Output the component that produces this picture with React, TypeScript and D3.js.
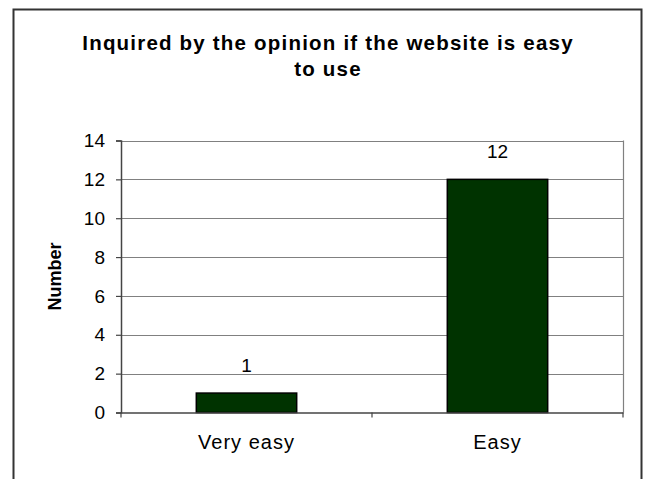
import * as d3 from 'd3'
import React, { useEffect, useRef } from "react";

const categories = ['Very easy', 'Easy'];
const counts = [1, 12];
const yTicks = [0, 2, 4, 6, 8, 10, 12, 14];
const titleLines = ['Inquired by the opinion if the website is easy', 'to use'];

const App: React.FC = () => {
    const ref = useRef<SVGSVGElement>(null);

    useEffect(() => {
        if (!ref.current) return;
        const width = 649;
        const height = 479;
        const svg = d3.select(ref.current)
            .attr('width', width)
            .attr('height', height)
            .style('position', 'absolute')
            .style('left', '0px')
            .style('top', '0px');
        svg.selectAll('*').remove();

        const font = 'Arial, "Liberation Sans", sans-serif';

        // outer chart frame (bottom edge runs off the picture)
        svg.append('path')
            .attr('d', 'M13.5,490 V9.5 H641.5 V490')
            .attr('fill', 'none')
            .attr('stroke', '#333')
            .attr('stroke-width', 2);

        const left = 121, right = 623, top = 140.5, bottom = 412.5;

        const x = d3.scaleBand<string>().domain(categories).range([left, right]).paddingInner(0).paddingOuter(0);
        const y = d3.scaleLinear().domain([0, 14]).range([bottom, top]);

        // gridlines
        svg.append('g')
            .selectAll('line')
            .data(yTicks.filter(t => t > 0))
            .join('line')
            .attr('x1', left).attr('x2', right)
            .attr('y1', d => Math.round(y(d)) + 0.5).attr('y2', d => Math.round(y(d)) + 0.5)
            .attr('stroke', '#808080')
            .attr('stroke-width', 1.2);

        // right plot border
        svg.append('line')
            .attr('x1', right + 0.5).attr('x2', right + 0.5)
            .attr('y1', top).attr('y2', bottom)
            .attr('stroke', '#808080')
            .attr('stroke-width', 1.2);

        // bars
        const barW = x.bandwidth() * 0.4;
        svg.append('g')
            .selectAll('rect')
            .data(counts)
            .join('rect')
            .attr('x', (d, i) => x(categories[i])! + (x.bandwidth() - barW) / 2)
            .attr('width', barW)
            .attr('y', d => y(d))
            .attr('height', d => y(0) - y(d))
            .attr('fill', '#003300')
            .attr('stroke', '#000')
            .attr('stroke-width', 1.5);

        // value labels
        svg.append('g')
            .selectAll('text')
            .data(counts)
            .join('text')
            .attr('x', (d, i) => x(categories[i])! + x.bandwidth() / 2)
            .attr('y', d => y(d) - 28)
            .attr('text-anchor', 'middle')
            .attr('dominant-baseline', 'central')
            .attr('font-family', font)
            .attr('font-size', 19)
            .text(d => d);

        // y axis
        const yAxis = svg.append('g')
            .attr('transform', `translate(${left},0)`)
            .call(d3.axisLeft(y).tickValues(yTicks).tickSize(5).tickPadding(11));
        yAxis.select('.domain').attr('stroke', '#444').attr('stroke-width', 1.5);
        yAxis.selectAll('.tick line').attr('stroke', '#444').attr('stroke-width', 1.2);
        yAxis.selectAll('.tick text')
            .attr('font-family', font)
            .attr('font-size', 19)
            .attr('fill', '#000');

        // x axis
        const xAxis = svg.append('g')
            .attr('transform', `translate(0,${bottom})`)
            .call(d3.axisBottom(x).tickSize(0).tickPadding(22));
        xAxis.select('.domain').attr('stroke', '#444').attr('stroke-width', 1.5);
        xAxis.selectAll('.tick text')
            .attr('font-family', font)
            .attr('font-size', 20)
            .attr('letter-spacing', 1)
            .attr('fill', '#000');
        xAxis.selectAll('line.sep')
            .data([left, (left + right) / 2, right])
            .join('line')
            .attr('class', 'sep')
            .attr('x1', d => d).attr('x2', d => d)
            .attr('y1', 0).attr('y2', 5)
            .attr('stroke', '#444')
            .attr('stroke-width', 1.2);

        // y title
        svg.append('text')
            .attr('transform', `translate(55,${(top + bottom) / 2}) rotate(-90)`)
            .attr('text-anchor', 'middle')
            .attr('dominant-baseline', 'central')
            .attr('font-family', font)
            .attr('font-size', 18)
            .attr('font-weight', 'bold')
            .text('Number');

        // title
        svg.append('g')
            .selectAll('text')
            .data(titleLines)
            .join('text')
            .attr('x', 328)
            .attr('y', (d, i) => 42 + i * 26)
            .attr('text-anchor', 'middle')
            .attr('dominant-baseline', 'central')
            .attr('font-family', font)
            .attr('font-size', 20.5)
            .attr('font-weight', 'bold')
            .attr('letter-spacing', 1.2)
            .text(d => d);
    }, []);

    return (<svg ref={ref}></svg>);
}

export default App;
